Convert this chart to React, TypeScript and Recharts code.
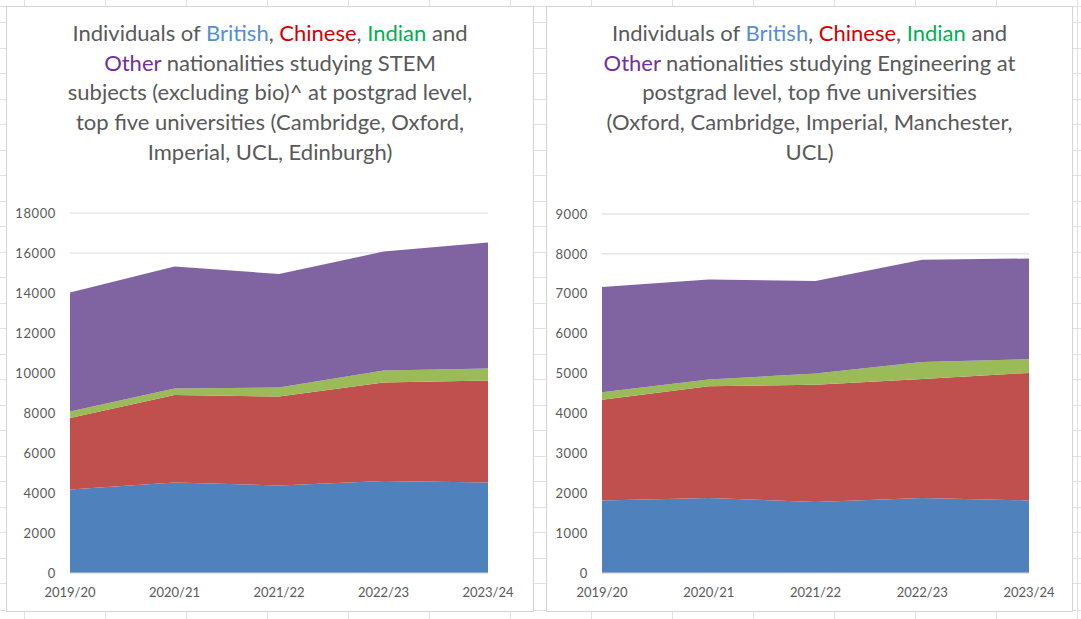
import React from "react";
import { AreaChart, Area, XAxis, YAxis, CartesianGrid } from "recharts";

// academic years on the x axis (shared by both charts)
const years = ["2019/20", "2020/21", "2021/22", "2022/23", "2023/24"];

// STEM (excluding bio), top five universities
const stemBritish = [4180, 4520, 4380, 4600, 4530];
const stemChinese = [3570, 4380, 4440, 4930, 5090];
const stemIndian = [320, 330, 450, 590, 610];
const stemOther = [5960, 6090, 5680, 5950, 6290];
const stemTicks = [0, 2000, 4000, 6000, 8000, 10000, 12000, 14000, 16000, 18000];

// Engineering, top five universities
const engBritish = [1820, 1880, 1780, 1880, 1820];
const engChinese = [2525, 2800, 2940, 2985, 3195];
const engIndian = [185, 170, 280, 425, 345];
const engOther = [2640, 2505, 2320, 2560, 2525];
const engTicks = [0, 1000, 2000, 3000, 4000, 5000, 6000, 7000, 8000, 9000];

const BLUE = "#4F81BD";
const RED = "#C0504D";
const GREEN = "#9BBB59";
const PURPLE = "#8064A2";
const GREY = "#595959";

const FONT = "Lato, 'Open Sans', sans-serif";

function buildRows(british: number[], chinese: number[], indian: number[], other: number[]) {
  return years.map((year, i) => ({
    year,
    british: british[i],
    chinese: chinese[i],
    indian: indian[i],
    other: other[i],
  }));
}

const stemData = buildRows(stemBritish, stemChinese, stemIndian, stemOther);
const engData = buildRows(engBritish, engChinese, engIndian, engOther);

type Seg = { t: string; c?: string };

const firstLine: Seg[] = [
  { t: "Individuals of " },
  { t: "British", c: "#558ED5" },
  { t: ", " },
  { t: "Chinese", c: "#D40000" },
  { t: ", " },
  { t: "Indian", c: "#00B050" },
  { t: " and" },
];

const stemTitle: Seg[][] = [
  firstLine,
  [{ t: "Other", c: "#7030A0" }, { t: " nationalities studying STEM" }],
  [{ t: "subjects (excluding bio)^ at postgrad level," }],
  [{ t: "top five universities (Cambridge, Oxford," }],
  [{ t: "Imperial, UCL, Edinburgh)" }],
];

const engTitle: Seg[][] = [
  firstLine,
  [{ t: "Other", c: "#7030A0" }, { t: " nationalities studying Engineering at" }],
  [{ t: "postgrad level, top five universities" }],
  [{ t: "(Oxford, Cambridge, Imperial, Manchester," }],
  [{ t: "UCL)" }],
];

function Title({ lines, left, width }: { lines: Seg[][]; left: number; width: number }) {
  return (
    <div
      style={{
        position: "absolute",
        left,
        top: 18,
        width,
        textAlign: "center",
        fontFamily: FONT,
        fontSize: 22,
        lineHeight: "29.7px",
        color: GREY,
        whiteSpace: "nowrap",
      }}
    >
      {lines.map((line, i) => (
        <div key={i}>
          {line.map((s, j) => (
            <span key={j} style={s.c ? { color: s.c } : undefined}>
              {s.t}
            </span>
          ))}
        </div>
      ))}
    </div>
  );
}

function StackedChart({
  data,
  ticks,
  max,
  width,
  yWidth,
  marginTop,
  marginRight,
}: {
  data: any[];
  ticks: number[];
  max: number;
  width: number;
  yWidth: number;
  marginTop: number;
  marginRight: number;
}) {
  const tick = { fontSize: 13, fill: GREY, fontFamily: FONT };
  return (
    <AreaChart
      width={width}
      height={420}
      data={data}
      margin={{ top: marginTop, right: marginRight, left: 0, bottom: 7 }}
    >
      <CartesianGrid vertical={false} stroke="#D9D9D9" />
      <XAxis
        dataKey="year"
        interval={0}
        tickLine={false}
        axisLine={{ stroke: "#D9D9D9" }}
        tickSize={6}
        tickMargin={9}
        height={30}
        tick={tick}
      />
      <YAxis
        domain={[0, max]}
        ticks={ticks}
        tickLine={false}
        axisLine={false}
        tickSize={6}
        tickMargin={8}
        width={yWidth}
        tick={{ ...tick, letterSpacing: 0.6 }}
      />
      <Area type="linear" dataKey="british" stackId="1" stroke="none" fill={BLUE} fillOpacity={1} isAnimationActive={false} />
      <Area type="linear" dataKey="chinese" stackId="1" stroke="none" fill={RED} fillOpacity={1} isAnimationActive={false} />
      <Area type="linear" dataKey="indian" stackId="1" stroke="none" fill={GREEN} fillOpacity={1} isAnimationActive={false} />
      <Area type="linear" dataKey="other" stackId="1" stroke="none" fill={PURPLE} fillOpacity={1} isAnimationActive={false} />
    </AreaChart>
  );
}

// spreadsheet cell lines behind the two chart boxes
const colCount = 14;
const rowCount = 23;

export default function App() {
  const cols = Array.from({ length: colCount }, (_, k) => 24 + 81 * k);
  const rows = [6, ...Array.from({ length: rowCount }, (_, k) => 22 + 25.5 * k), 610];
  return (
    <div
      style={{
        position: "absolute",
        left: 0,
        top: 0,
        width: 1081,
        height: 619,
        background: "#fff",
        overflow: "hidden",
      }}
    >
      {cols.map((x) => (
        <div key={"c" + x} style={{ position: "absolute", left: x, top: 0, width: 1, height: 619, background: "#E1E1E1" }} />
      ))}
      {rows.map((y) => (
        <div key={"r" + y} style={{ position: "absolute", left: 0, top: y, width: 1081, height: 1, background: "#E1E1E1" }} />
      ))}

      <div style={{ position: "absolute", left: 6, top: 6, width: 526, height: 604, background: "#fff", border: "1px solid #D4D4D4" }} />
      <div style={{ position: "absolute", left: 546, top: 6, width: 525, height: 604, background: "#fff", border: "1px solid #D4D4D4" }} />

      <Title lines={stemTitle} left={6} width={528} />
      <Title lines={engTitle} left={546} width={527} />

      <div style={{ position: "absolute", left: 6, top: 190 }}>
        <StackedChart data={stemData} ticks={stemTicks} max={18000} width={528} yWidth={64} marginTop={23} marginRight={46} />
      </div>
      <div style={{ position: "absolute", left: 546, top: 190 }}>
        <StackedChart data={engData} ticks={engTicks} max={9000} width={527} yWidth={56} marginTop={24} marginRight={44} />
      </div>
    </div>
  );
}
